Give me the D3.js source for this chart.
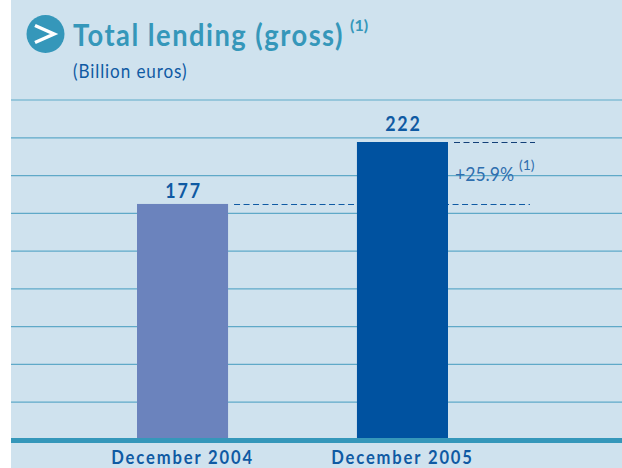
<!DOCTYPE html>
<html>
<head>
<meta charset="utf-8">
<script src="https://cdn.jsdelivr.net/npm/d3@7"></script>
<style>
  html, body { margin: 0; padding: 0; background: #fff; }
  svg { display: block; }
  text { font-family: Lato, "Open Sans", sans-serif; }
</style>
</head>
<body>
<svg></svg>
<script>
const categories = ["December 2004", "December 2005"];
const values = [177, 222];
const barColors = ["#6b83bd", "#0052a0"];
const gridLevels = [1, 2, 3, 4, 5, 6, 7, 8, 9];
const growthLabel = "+25.9%";

const W = 622, H = 468;
const left = 11, baseY = 438;

const svg = d3.select("svg").attr("width", W).attr("height", H);

svg.append("rect").attr("x", left).attr("y", 0).attr("width", W - left).attr("height", H).attr("fill", "#cfe2ee");

// bars sit where they do in the original: 91 wide, 220 apart
const x = d3.scaleBand().domain(categories).range([137, 448]).paddingInner(0.586).paddingOuter(0);
const y = d3.scaleLinear().domain([7, 222]).range([baseY, 142]);
const grid = d3.scaleLinear().domain([0, 9]).range([440, 100]);

svg.selectAll(".grid").data(gridLevels).enter().append("line")
  .attr("class", "grid")
  .attr("x1", left).attr("x2", W)
  .attr("y1", d => grid(d)).attr("y2", d => grid(d))
  .attr("stroke", "#5fa9c8").attr("stroke-width", 1.2);

// dashed guides between the two bar tops
const guides = [
  { v: values[0], x1: x(categories[0]) + x.bandwidth() + 6, x2: 530, color: "#0f5aa3" },
  { v: values[1], x1: x(categories[1]) + x.bandwidth() + 6, x2: 535, color: "#123f78" }
];
svg.selectAll(".guide").data(guides).enter().append("line")
  .attr("class", "guide")
  .attr("x1", d => d.x1).attr("x2", d => d.x2)
  .attr("y1", d => Math.round(y(d.v)) + 0.5).attr("y2", d => Math.round(y(d.v)) + 0.5)
  .attr("stroke", d => d.color).attr("stroke-width", 1).attr("stroke-dasharray", "6 3.5");

svg.selectAll(".bar").data(values).enter().append("rect")
  .attr("class", "bar")
  .attr("x", (d, i) => x(categories[i]))
  .attr("width", x.bandwidth())
  .attr("y", d => y(d))
  .attr("height", d => baseY - y(d))
  .attr("fill", (d, i) => barColors[i]);

// the original type is narrower than any installed font, so squeeze it
function squeezed(sel, px, py, sx) {
  return sel.attr("transform", "translate(" + px + "," + py + ") scale(" + sx + ",1)");
}

svg.selectAll(".val").data(values).enter().append("text")
  .attr("class", "val")
  .attr("text-anchor", "middle")
  .attr("font-size", 21).attr("font-weight", 700).attr("letter-spacing", 2.2)
  .attr("fill", "#0f5aa3")
  .text(d => d)
  .each(function(d, i) {
    squeezed(d3.select(this), x(categories[i]) + x.bandwidth() / 2 + 1, y(d) - (i ? 11 : 6), 0.85);
  });

// baseline
svg.append("rect").attr("x", left).attr("y", baseY).attr("width", W - left).attr("height", 5).attr("fill", "#3597ba");

svg.selectAll(".cat").data(categories).enter().append("text")
  .attr("class", "cat")
  .attr("text-anchor", "middle")
  .attr("font-size", 19.5).attr("font-weight", 700).attr("letter-spacing", 2.2)
  .attr("fill", "#0f5aa3")
  .text(d => d)
  .each(function(d) {
    squeezed(d3.select(this), x(d) + x.bandwidth() / 2, 464, 0.85);
  });

// title block
svg.append("circle").attr("cx", 45.5).attr("cy", 34).attr("r", 19).attr("fill", "#3597ba");
svg.append("path").attr("d", "M35 25.5 L54 34 L35 42.5").attr("fill", "none").attr("stroke", "#fff").attr("stroke-width", 3.5);

svg.append("text").attr("fill", "#3597ba")
  .attr("font-size", 31).attr("font-weight", 700).attr("letter-spacing", 1.7)
  .text("Total lending (gross)")
  .call(squeezed, 73, 46, 0.88);
svg.append("text").attr("x", 350).attr("y", 31).attr("fill", "#3597ba")
  .attr("font-size", 16).attr("font-weight", 700)
  .text("(1)");

svg.append("text").attr("fill", "#0f5aa3")
  .attr("font-size", 19).attr("letter-spacing", 1)
  .text("(Billion euros)")
  .call(squeezed, 73, 78, 0.9);

// growth note
svg.append("text").attr("fill", "#2f6fae")
  .attr("font-family", "Roboto").attr("font-size", 20)
  .text(growthLabel)
  .call(squeezed, 455, 181, 0.88);
svg.append("text").attr("x", 519).attr("y", 170).attr("fill", "#2f6fae")
  .attr("font-size", 14)
  .text("(1)");
</script>
</body>
</html>
